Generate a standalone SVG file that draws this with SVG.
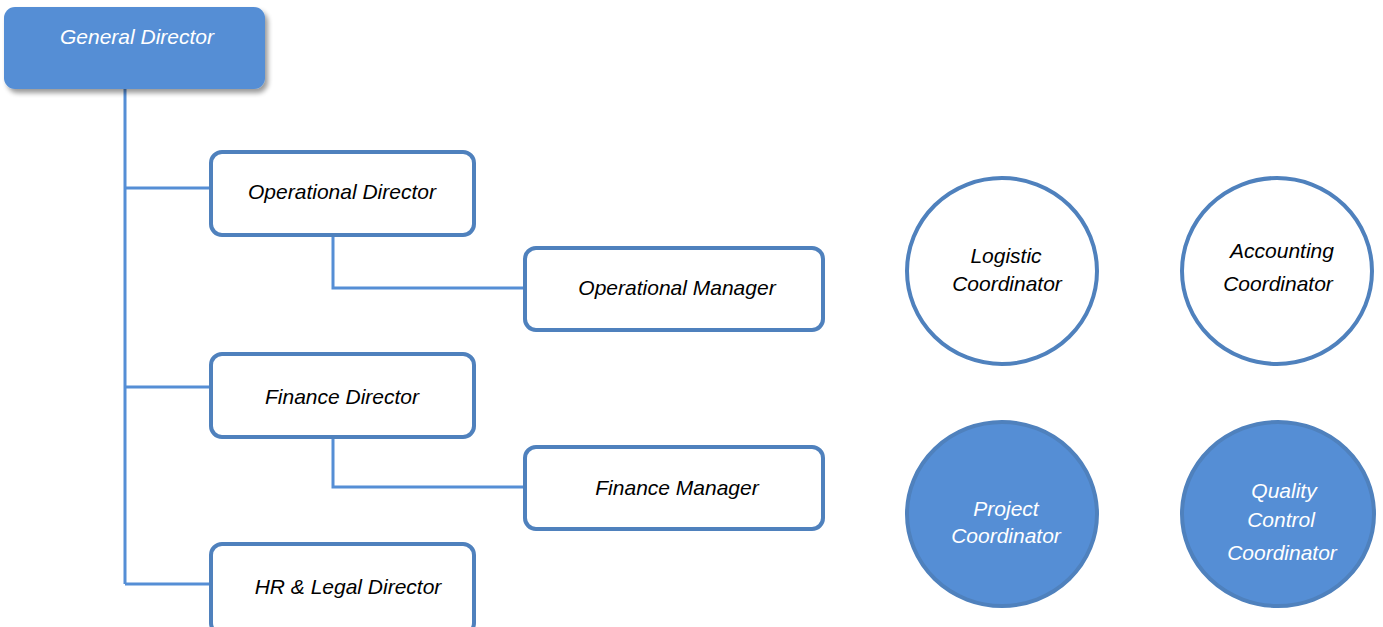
<svg xmlns="http://www.w3.org/2000/svg" width="1383" height="627" viewBox="0 0 1383 627">
<defs>
<filter id="sh" x="-10%" y="-10%" width="130%" height="140%">
<feGaussianBlur in="SourceAlpha" stdDeviation="2.5"/>
<feOffset dx="3" dy="4" result="b"/>
<feComponentTransfer><feFuncA type="linear" slope="0.4"/></feComponentTransfer>
<feMerge><feMergeNode/><feMergeNode in="SourceGraphic"/></feMerge>
</filter>
</defs>
<style>
text{font-family:"Liberation Sans",Arial,sans-serif;font-style:italic;font-size:21px;text-anchor:middle}
.box{fill:#fff;stroke:#4F81BD;stroke-width:4}
.circ{fill:#fff;stroke:#4F81BD;stroke-width:4}
.fcirc{fill:#558ED5;stroke:#4F81BD;stroke-width:4}
.dk{fill:#000}
.wt{fill:#fff}
.con{fill:none;stroke:#558ED5;stroke-width:3}
</style>
<rect width="1383" height="627" fill="#fff"/>
<g id="connectors">
<path class="con" d="M125 89V584"/>
<path class="con" d="M125 188H211"/>
<path class="con" d="M125 387H211"/>
<path class="con" d="M125 584H211"/>
<path class="con" d="M333 235V288H525"/>
<path class="con" d="M333 437V487H525"/>
</g>
<g id="general-director">
<rect x="4" y="7" width="261" height="82" rx="11" fill="#558ED5" filter="url(#sh)"/>
<text class="wt" x="137" y="44">General Director</text>
</g>
<g id="operational-director">
<rect class="box" x="211" y="152" width="263" height="83" rx="11"/>
<text class="dk" x="342" y="199">Operational Director</text>
</g>
<g id="operational-manager">
<rect class="box" x="525" y="248" width="298" height="82" rx="11"/>
<text class="dk" x="677" y="295">Operational Manager</text>
</g>
<g id="finance-director">
<rect class="box" x="211" y="354" width="263" height="83" rx="11"/>
<text class="dk" x="342" y="404">Finance Director</text>
</g>
<g id="finance-manager">
<rect class="box" x="525" y="447" width="298" height="82" rx="11"/>
<text class="dk" x="677" y="495">Finance Manager</text>
</g>
<g id="hr-legal-director">
<rect class="box" x="211" y="544" width="263" height="90" rx="11"/>
<text class="dk" x="348" y="594">HR &amp; Legal Director</text>
</g>
<g id="logistic-coordinator">
<ellipse class="circ" cx="1002" cy="271" rx="95" ry="93"/>
<text class="dk" x="1006" y="263">Logistic</text>
<text class="dk" x="1007" y="291">Coordinator</text>
</g>
<g id="accounting-coordinator">
<ellipse class="circ" cx="1277" cy="271" rx="95" ry="93"/>
<text class="dk" x="1282" y="258">Accounting</text>
<text class="dk" x="1278" y="291">Coordinator</text>
</g>
<g id="project-coordinator">
<ellipse class="fcirc" cx="1002" cy="514" rx="95" ry="92"/>
<text class="wt" x="1006" y="516">Project</text>
<text class="wt" x="1006" y="543">Coordinator</text>
</g>
<g id="quality-control-coordinator">
<ellipse class="fcirc" cx="1278" cy="514" rx="96" ry="92"/>
<text class="wt" x="1284" y="498">Quality</text>
<text class="wt" x="1281" y="527">Control</text>
<text class="wt" x="1282" y="560">Coordinator</text>
</g>
</svg>
